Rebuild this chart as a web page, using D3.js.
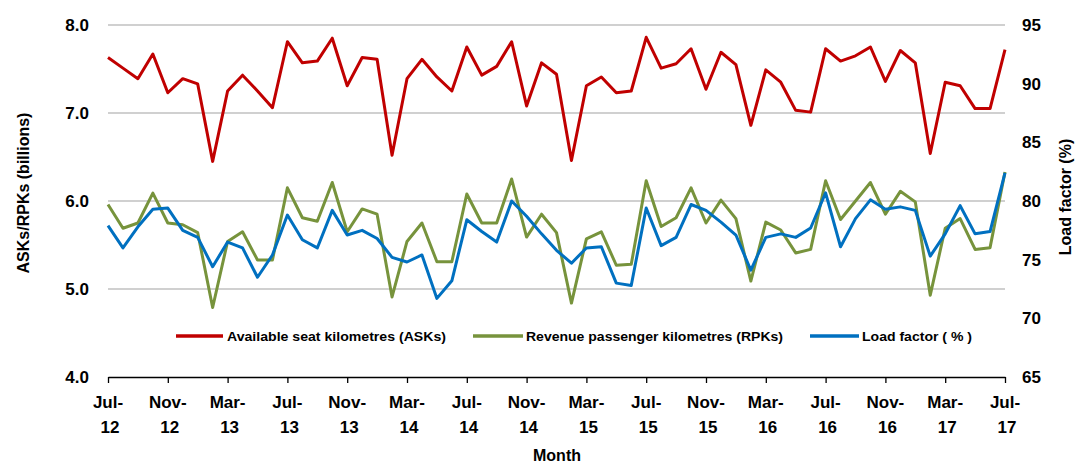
<!DOCTYPE html>
<html>
<head>
<meta charset="utf-8">
<script src="https://cdn.jsdelivr.net/npm/d3@7"></script>
<style>
body { margin: 0; background: #fff; }
text { font-family: "Liberation Sans", Arial, sans-serif; font-weight: bold; fill: #000; }
</style>
</head>
<body>
<svg width="1077" height="466"></svg>
<script>
var months = ["Jul","Aug","Sep","Oct","Nov","Dec","Jan","Feb","Mar","Apr","May","Jun"];

// ASKs, billions (Jul-12 .. Jul-17)
var asks = [7.63,7.51,7.39,7.67,7.23,7.39,7.33,6.45,7.25,7.43,7.25,7.06,
	7.81,7.57,7.59,7.85,7.31,7.63,7.61,6.52,7.39,7.61,7.41,7.25,
	7.75,7.43,7.53,7.81,7.08,7.57,7.44,6.46,7.31,7.41,7.23,7.25,
	7.86,7.51,7.56,7.73,7.27,7.69,7.55,6.86,7.49,7.35,7.03,7.01,
	7.73,7.59,7.65,7.75,7.36,7.71,7.57,6.54,7.35,7.31,7.05,7.05,7.72];

// RPKs, billions
var rpks = [5.96,5.69,5.75,6.09,5.75,5.73,5.64,4.79,5.54,5.65,5.33,5.33,
	6.15,5.81,5.77,6.21,5.65,5.91,5.85,4.91,5.54,5.75,5.31,5.31,
	6.08,5.75,5.75,6.25,5.59,5.85,5.64,4.84,5.57,5.65,5.27,5.28,
	6.23,5.71,5.81,6.15,5.75,6.01,5.80,5.09,5.76,5.67,5.41,5.45,
	6.23,5.79,6.00,6.21,5.85,6.11,5.99,4.93,5.69,5.80,5.45,5.47,6.33];

// Load factor, %
var loadFactor = [77.9,76.0,77.8,79.3,79.4,77.5,76.9,74.4,76.5,76.0,73.5,75.4,
	78.8,76.7,76.0,79.2,77.1,77.5,76.8,75.2,74.8,75.4,71.7,73.2,
	78.4,77.4,76.5,80.0,78.7,77.2,75.8,74.7,76.0,76.1,73.0,72.8,
	79.4,76.2,76.9,79.7,79.2,78.2,77.1,74.1,76.9,77.2,76.9,77.7,
	80.7,76.1,78.5,80.1,79.3,79.5,79.2,75.3,77.2,79.6,77.2,77.4,82.4];

var leftTicks = [4, 5, 6, 7, 8];
var rightTicks = [65, 70, 75, 80, 85, 90, 95];

var labels = d3.range(asks.length).map(function(i) {
	var yr = 12 + Math.floor((6 + i) / 12);
	return months[i % 12] + "-" + yr;
});

var svg = d3.select("svg");
var plotLeft = 108, plotRight = 1005, plotTop = 25, plotBottom = 377;

var x = d3.scaleLinear().domain([0, asks.length - 1]).range([plotLeft, plotRight]);
var yL = d3.scaleLinear().domain([4, 8]).range([plotBottom, plotTop]);
var yR = d3.scaleLinear().domain([65, 95]).range([plotBottom, plotTop]);

// gridlines
svg.append("g")
	.selectAll("line")
	.data(leftTicks.slice(1))
	.enter().append("line")
	.attr("x1", plotLeft).attr("x2", plotRight)
	.attr("y1", function(d) { return yL(d); })
	.attr("y2", function(d) { return yL(d); })
	.attr("stroke", "#c0c0c0")
	.attr("stroke-width", 1.5);

// left axis labels
svg.append("g")
	.selectAll("text")
	.data(leftTicks)
	.enter().append("text")
	.attr("x", 89)
	.attr("y", function(d) { return yL(d) + 6; })
	.attr("text-anchor", "end")
	.style("font-size", "17px")
	.text(function(d) { return d3.format(".1f")(d); });

// right axis labels
svg.append("g")
	.selectAll("text")
	.data(rightTicks)
	.enter().append("text")
	.attr("x", 1022)
	.attr("y", function(d) { return yR(d) + 6; })
	.style("font-size", "17px")
	.text(function(d) { return d; });

// x axis
var tickIdx = d3.range(0, asks.length, 4);
var xAxis = d3.axisBottom(x)
	.tickValues(tickIdx)
	.tickSizeInner(6)
	.tickSizeOuter(0)
	.tickFormat("");
var gx = svg.append("g")
	.attr("transform", "translate(0," + plotBottom + ")")
	.call(xAxis);
gx.select(".domain").attr("stroke", "#000").attr("stroke-width", 1.3);
gx.selectAll(".tick line").attr("stroke", "#000").attr("stroke-width", 1.3);

var xl = svg.append("g")
	.selectAll("text")
	.data(tickIdx)
	.enter().append("text")
	.attr("text-anchor", "middle")
	.style("font-size", "17px");
xl.append("tspan")
	.attr("x", function(d) { return x(d); })
	.attr("y", 408)
	.text(function(d) { return labels[d].split("-")[0] + "-"; });
xl.append("tspan")
	.attr("x", function(d) { return x(d) + 2; })
	.attr("y", 433)
	.text(function(d) { return labels[d].split("-")[1]; });

// axis titles
svg.append("text")
	.attr("transform", "translate(29,193) rotate(-90)")
	.attr("text-anchor", "middle")
	.style("font-size", "16px")
	.text("ASKs/RPKs (billions)");

svg.append("text")
	.attr("transform", "translate(1071,197) rotate(-90)")
	.attr("text-anchor", "middle")
	.style("font-size", "16px")
	.text("Load factor (%)");

svg.append("text")
	.attr("x", 557)
	.attr("y", 461)
	.attr("text-anchor", "middle")
	.style("font-size", "16px")
	.text("Month");

// series lines
var series = [
	{ name: "Available seat kilometres (ASKs)", values: asks, y: yL, color: "#c00000" },
	{ name: "Revenue passenger kilometres (RPKs)", values: rpks, y: yL, color: "#77933c" },
	{ name: "Load factor ( % )", values: loadFactor, y: yR, color: "#0070c0" }
];

series.forEach(function(s) {
	var line = d3.line()
		.x(function(d, i) { return x(i); })
		.y(function(d) { return s.y(d); });
	svg.append("path")
		.datum(s.values)
		.attr("d", line)
		.attr("fill", "none")
		.attr("stroke", s.color)
		.attr("stroke-width", 3)
		.attr("stroke-linejoin", "round");
});

// legend
var legendPos = [
	{ x1: 176, x2: 223, tx: 227, tw: 219 },
	{ x1: 473, x2: 523, tx: 526, tw: 257 },
	{ x1: 810, x2: 859, tx: 862, tw: 110 }
];
var lg = svg.append("g")
	.selectAll("g")
	.data(series)
	.enter().append("g");
lg.append("line")
	.attr("x1", function(d, i) { return legendPos[i].x1; })
	.attr("x2", function(d, i) { return legendPos[i].x2; })
	.attr("y1", 336).attr("y2", 336)
	.attr("stroke", function(d) { return d.color; })
	.attr("stroke-width", 3.5);
lg.append("text")
	.attr("x", function(d, i) { return legendPos[i].tx; })
	.attr("y", 341)
	.attr("textLength", function(d, i) { return legendPos[i].tw; })
	.attr("lengthAdjust", "spacingAndGlyphs")
	.style("font-size", "13px")
	.text(function(d) { return d.name; });
</script>
</body>
</html>
